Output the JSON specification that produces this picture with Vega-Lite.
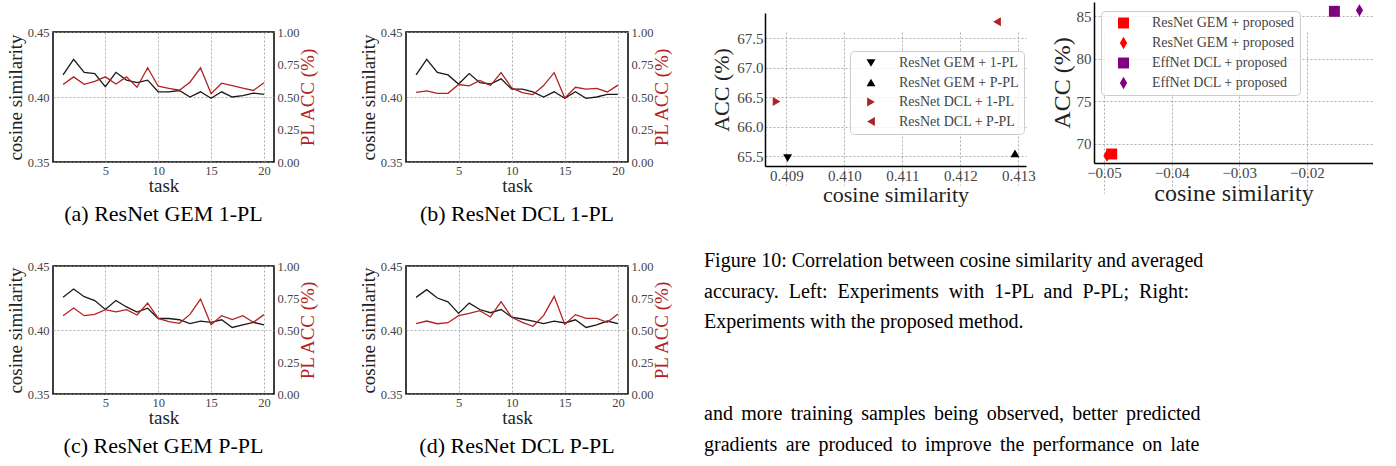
{
  "$schema": "https://vega.github.io/schema/vega-lite/v6.json",
  "padding": {"left": 5, "top": 4, "right": 0, "bottom": 0},
  "background": "white",
  "config": {
    "font": "Liberation Serif",
    "view": {"stroke": null},
    "axis": {"labelFont": "Liberation Serif", "titleFont": "Liberation Serif", "labelColor": "#444", "titleColor": "#222", "titleFontWeight": "normal", "ticks": false, "domain": false, "gridColor": "#9a9a9a", "gridDash": [2, 2], "gridWidth": 0.8, "labelFlush": false, "labelOverlap": false},
    "title": {"font": "Liberation Serif", "fontWeight": "normal", "color": "#000"},
    "legend": {"labelFont": "Liberation Serif"}
  },
  "datasets": {
    "a": [
      {"task": 1, "cos": 0.417, "pl": 0.596}, {"task": 2, "cos": 0.429, "pl": 0.655}, {"task": 3, "cos": 0.419, "pl": 0.598}, {"task": 4, "cos": 0.418, "pl": 0.62},
      {"task": 5, "cos": 0.408, "pl": 0.655}, {"task": 6, "cos": 0.419, "pl": 0.6}, {"task": 7, "cos": 0.413, "pl": 0.655}, {"task": 8, "cos": 0.411, "pl": 0.575},
      {"task": 9, "cos": 0.413, "pl": 0.725}, {"task": 10, "cos": 0.404, "pl": 0.583}, {"task": 11, "cos": 0.404, "pl": 0.567}, {"task": 12, "cos": 0.405, "pl": 0.552},
      {"task": 13, "cos": 0.4, "pl": 0.614}, {"task": 14, "cos": 0.404, "pl": 0.725}, {"task": 15, "cos": 0.399, "pl": 0.526}, {"task": 16, "cos": 0.404, "pl": 0.606},
      {"task": 17, "cos": 0.4, "pl": 0.588}, {"task": 18, "cos": 0.401, "pl": 0.568}, {"task": 19, "cos": 0.403, "pl": 0.55}, {"task": 20, "cos": 0.402, "pl": 0.609}
    ],
    "b": [
      {"task": 1, "cos": 0.417, "pl": 0.536}, {"task": 2, "cos": 0.429, "pl": 0.547}, {"task": 3, "cos": 0.419, "pl": 0.528}, {"task": 4, "cos": 0.417, "pl": 0.528},
      {"task": 5, "cos": 0.41, "pl": 0.596}, {"task": 6, "cos": 0.418, "pl": 0.585}, {"task": 7, "cos": 0.411, "pl": 0.627}, {"task": 8, "cos": 0.41, "pl": 0.588},
      {"task": 9, "cos": 0.414, "pl": 0.687}, {"task": 10, "cos": 0.406, "pl": 0.57}, {"task": 11, "cos": 0.406, "pl": 0.534}, {"task": 12, "cos": 0.404, "pl": 0.518},
      {"task": 13, "cos": 0.4, "pl": 0.588}, {"task": 14, "cos": 0.404, "pl": 0.687}, {"task": 15, "cos": 0.399, "pl": 0.492}, {"task": 16, "cos": 0.404, "pl": 0.575},
      {"task": 17, "cos": 0.399, "pl": 0.56}, {"task": 18, "cos": 0.4, "pl": 0.567}, {"task": 19, "cos": 0.402, "pl": 0.539}, {"task": 20, "cos": 0.402, "pl": 0.591}
    ],
    "c": [
      {"task": 1, "cos": 0.4255, "pl": 0.612}, {"task": 2, "cos": 0.432, "pl": 0.672}, {"task": 3, "cos": 0.426, "pl": 0.612}, {"task": 4, "cos": 0.423, "pl": 0.622},
      {"task": 5, "cos": 0.416, "pl": 0.659}, {"task": 6, "cos": 0.423, "pl": 0.641}, {"task": 7, "cos": 0.418, "pl": 0.659}, {"task": 8, "cos": 0.414, "pl": 0.617},
      {"task": 9, "cos": 0.417, "pl": 0.711}, {"task": 10, "cos": 0.409, "pl": 0.591}, {"task": 11, "cos": 0.409, "pl": 0.565}, {"task": 12, "cos": 0.408, "pl": 0.552},
      {"task": 13, "cos": 0.405, "pl": 0.622}, {"task": 14, "cos": 0.407, "pl": 0.742}, {"task": 15, "cos": 0.406, "pl": 0.542}, {"task": 16, "cos": 0.408, "pl": 0.612},
      {"task": 17, "cos": 0.402, "pl": 0.581}, {"task": 18, "cos": 0.404, "pl": 0.612}, {"task": 19, "cos": 0.406, "pl": 0.56}, {"task": 20, "cos": 0.404, "pl": 0.62}
    ],
    "d": [
      {"task": 1, "cos": 0.4255, "pl": 0.549}, {"task": 2, "cos": 0.4315, "pl": 0.57}, {"task": 3, "cos": 0.425, "pl": 0.549}, {"task": 4, "cos": 0.422, "pl": 0.557},
      {"task": 5, "cos": 0.413, "pl": 0.612}, {"task": 6, "cos": 0.421, "pl": 0.63}, {"task": 7, "cos": 0.416, "pl": 0.651}, {"task": 8, "cos": 0.4135, "pl": 0.602},
      {"task": 9, "cos": 0.416, "pl": 0.721}, {"task": 10, "cos": 0.41, "pl": 0.599}, {"task": 11, "cos": 0.4086, "pl": 0.56}, {"task": 12, "cos": 0.407, "pl": 0.529},
      {"task": 13, "cos": 0.405, "pl": 0.612}, {"task": 14, "cos": 0.407, "pl": 0.763}, {"task": 15, "cos": 0.4055, "pl": 0.544}, {"task": 16, "cos": 0.408, "pl": 0.62},
      {"task": 17, "cos": 0.402, "pl": 0.591}, {"task": 18, "cos": 0.404, "pl": 0.591}, {"task": 19, "cos": 0.407, "pl": 0.56}, {"task": 20, "cos": 0.405, "pl": 0.625}
    ],
    "left": [
      {"method": "ResNet GEM + 1-PL", "cos": 0.40902, "acc": 65.47},
      {"method": "ResNet GEM + P-PL", "cos": 0.41294, "acc": 65.55},
      {"method": "ResNet DCL + 1-PL", "cos": 0.40883, "acc": 66.43},
      {"method": "ResNet DCL + P-PL", "cos": 0.41263, "acc": 67.78}
    ],
    "right": [
      {"method": "ResNet GEM + proposed | 1", "cos": -0.04886, "acc": 68.78},
      {"method": "ResNet GEM + proposed | 2", "cos": -0.04956, "acc": 68.58},
      {"method": "EffNet DCL + proposed | 1", "cos": -0.01593, "acc": 85.59},
      {"method": "EffNet DCL + proposed | 2", "cos": -0.01222, "acc": 85.71}
    ],
    "text": [
      {"line": 0, "indent": 0, "text": "Figure 10:  Correlation between cosine similarity and averaged"},
      {"line": 1, "indent": 0, "text": "accuracy. \u00a0Left: \u00a0Experiments \u00a0with \u00a01-PL \u00a0and \u00a0P-PL; \u00a0Right:"},
      {"line": 2, "indent": 0, "text": "Experiments with the proposed method."},
      {"line": 5, "indent": 0, "text": "and \u2006more \u2006training \u2006samples \u2006being \u2006observed, \u2006better \u2006predicted"},
      {"line": 6, "indent": 0, "text": "gradients \u2006are \u2006produced \u2006to \u2006improve \u2006the \u2006performance \u2006on \u2006late"}
    ]
  },
  "columns": 4,
  "spacing": {"row": 100, "column": 132},
  "bounds": "flush",
  "align": "each",
  "resolve": {"scale": {"color": "independent", "shape": "independent"}, "legend": {"color": "independent", "shape": "independent"}},
  "concat": [
    {
      "width": 221, "height": 130,
      "data": {"name": "a"},
      "view": {"stroke": "#000", "strokeWidth": 1.5},
      "title": {"text": "(a) ResNet GEM 1-PL", "orient": "bottom", "fontSize": 22, "offset": 8, "frame": "group", "anchor": "middle"},
      "encoding": {"x": {"field": "task", "type": "quantitative", "scale": {"domain": [0.05, 20.95], "nice": false, "zero": false}, "axis": {"values": [5, 10, 15, 20], "grid": true, "title": "task", "labelFontSize": 12.5, "titleFontSize": 19, "labelPadding": 2, "titlePadding": 0}}},
      "layer": [
        {"mark": {"type": "line", "color": "#1a1a1a", "strokeWidth": 1.3}, "encoding": {"y": {"field": "cos", "type": "quantitative", "scale": {"domain": [0.35, 0.45], "nice": false, "zero": false}, "axis": {"orient": "left", "values": [0.35, 0.4, 0.45], "format": ".2f", "grid": true, "title": "cosine similarity", "labelFontSize": 12.5, "titleFontSize": 19, "labelPadding": 4, "titlePadding": 2}}}},
        {"mark": {"type": "line", "color": "#b22222", "strokeWidth": 1.3}, "encoding": {"y": {"field": "pl", "type": "quantitative", "scale": {"domain": [0, 1], "nice": false}, "axis": {"orient": "right", "values": [0, 0.25, 0.5, 0.75, 1], "format": ".2f", "grid": false, "title": "PL ACC (%)", "titleColor": "#b22222", "labelFontSize": 12.5, "titleFontSize": 19, "labelPadding": 3, "titlePadding": 0, "titleAngle": 270, "titleBaseline": "top"}}}}
      ],
      "resolve": {"scale": {"y": "independent"}}
    },
    {
      "width": 222, "height": 130,
      "data": {"name": "b"},
      "view": {"stroke": "#000", "strokeWidth": 1.5},
      "title": {"text": "(b) ResNet DCL 1-PL", "orient": "bottom", "fontSize": 22, "offset": 8, "frame": "group", "anchor": "middle"},
      "encoding": {"x": {"field": "task", "type": "quantitative", "scale": {"domain": [0.05, 20.95], "nice": false, "zero": false}, "axis": {"values": [5, 10, 15, 20], "grid": true, "title": "task", "labelFontSize": 12.5, "titleFontSize": 19, "labelPadding": 2, "titlePadding": 0}}},
      "layer": [
        {"mark": {"type": "line", "color": "#1a1a1a", "strokeWidth": 1.3}, "encoding": {"y": {"field": "cos", "type": "quantitative", "scale": {"domain": [0.35, 0.45], "nice": false, "zero": false}, "axis": {"orient": "left", "values": [0.35, 0.4, 0.45], "format": ".2f", "grid": true, "title": "cosine similarity", "labelFontSize": 12.5, "titleFontSize": 19, "labelPadding": 4, "titlePadding": 2}}}},
        {"mark": {"type": "line", "color": "#b22222", "strokeWidth": 1.3}, "encoding": {"y": {"field": "pl", "type": "quantitative", "scale": {"domain": [0, 1], "nice": false}, "axis": {"orient": "right", "values": [0, 0.25, 0.5, 0.75, 1], "format": ".2f", "grid": false, "title": "PL ACC (%)", "titleColor": "#b22222", "labelFontSize": 12.5, "titleFontSize": 19, "labelPadding": 3, "titlePadding": 0, "titleAngle": 270, "titleBaseline": "top"}}}}
      ],
      "resolve": {"scale": {"y": "independent"}}
    },
    {
      "width": 202, "height": 134,
      "data": {"name": "left"},
      "mark": {"type": "point", "filled": true, "size": 80, "opacity": 1},
      "encoding": {
        "x": {"field": "cos", "type": "quantitative", "scale": {"domain": [0.40863, 0.41313], "range": [5, 266], "nice": false, "zero": false}, "axis": {"values": [0.409, 0.41, 0.411, 0.412, 0.413], "format": ".3f", "grid": true, "domain": true, "domainColor": "#000", "domainWidth": 1.5, "title": "cosine similarity", "labelFontSize": 15, "titleFontSize": 22, "labelPadding": 2, "titlePadding": 1}},
        "y": {"field": "acc", "type": "quantitative", "scale": {"domain": [65.335, 67.93], "range": [134, -19], "nice": false, "zero": false}, "axis": {"offset": -5, "values": [65.5, 66, 66.5, 67, 67.5], "format": ".1f", "grid": true, "domain": true, "domainColor": "#000", "domainWidth": 1.5, "title": "ACC (%)", "labelFontSize": 15, "titleFontSize": 22, "labelPadding": 2, "titlePadding": 3}},
        "color": {"field": "method", "type": "nominal", "scale": {"domain": ["ResNet GEM + 1-PL", "ResNet GEM + P-PL", "ResNet DCL + 1-PL", "ResNet DCL + P-PL"], "range": ["#000000", "#000000", "#b22222", "#b22222"]}, "legend": {"title": null, "orient": "none", "legendX": 90, "legendY": 19, "labelFontSize": 14, "labelColor": "#444", "symbolSize": 80, "rowPadding": 5.5, "padding": 5, "symbolOffset": 9, "labelOffset": 21, "strokeColor": "#cccccc", "fillColor": "rgba(255,255,255,0.8)", "cornerRadius": 4}},
        "shape": {"field": "method", "type": "nominal", "scale": {"domain": ["ResNet GEM + 1-PL", "ResNet GEM + P-PL", "ResNet DCL + 1-PL", "ResNet DCL + P-PL"], "range": ["triangle-down", "triangle-up", "triangle-right", "triangle-left"]}, "legend": {"title": null, "orient": "none", "legendX": 90, "legendY": 19, "labelFontSize": 14, "labelColor": "#444", "symbolSize": 80, "rowPadding": 5.5, "padding": 5, "symbolOffset": 9, "labelOffset": 21, "strokeColor": "#cccccc", "fillColor": "rgba(255,255,255,0.8)", "cornerRadius": 4}}
      }
    },
    {
      "width": 279, "height": 131,
      "data": {"name": "right"},
      "mark": {"type": "point", "filled": true, "size": 120, "opacity": 1},
      "encoding": {
        "x": {"field": "cos", "type": "quantitative", "scale": {"domain": [-0.05148, -0.01022], "nice": false, "zero": false}, "axis": {"values": [-0.05, -0.04, -0.03, -0.02], "format": ".2f", "grid": true, "domain": true, "domainColor": "#000", "domainWidth": 1.5, "title": "cosine similarity", "labelFontSize": 15, "titleFontSize": 24, "labelPadding": 2, "titlePadding": 1}},
        "y": {"field": "acc", "type": "quantitative", "scale": {"domain": [67.72, 86.69], "range": [131, -30], "nice": false, "zero": false}, "axis": {"values": [70, 75, 80, 85], "format": "d", "grid": true, "domain": true, "domainColor": "#000", "domainWidth": 1.5, "title": "ACC (%)", "labelFontSize": 15, "titleFontSize": 24, "labelPadding": 3, "titlePadding": 2}},
        "color": {"field": "method", "type": "nominal", "scale": {"domain": ["ResNet GEM + proposed | 1", "ResNet GEM + proposed | 2", "EffNet DCL + proposed | 1", "EffNet DCL + proposed | 2"], "range": ["#ff0000", "#ff0000", "#800080", "#800080"]}, "legend": {"title": null, "orient": "none", "legendX": 7, "legendY": -21, "labelFontSize": 14, "labelColor": "#444", "labelExpr": "split(datum.label, ' | ')[0]", "symbolSize": 120, "rowPadding": 6, "padding": 5, "symbolOffset": 10.5, "labelOffset": 21.5, "strokeColor": "#cccccc", "fillColor": "rgba(255,255,255,0.8)", "cornerRadius": 4}},
        "shape": {"field": "method", "type": "nominal", "scale": {"domain": ["ResNet GEM + proposed | 1", "ResNet GEM + proposed | 2", "EffNet DCL + proposed | 1", "EffNet DCL + proposed | 2"], "range": ["square", "M0,-1.12L0.66,0L0,1.12L-0.66,0Z", "square", "M0,-1.12L0.66,0L0,1.12L-0.66,0Z"]}, "legend": {"title": null, "orient": "none", "legendX": 7, "legendY": -21, "labelFontSize": 14, "labelColor": "#444", "labelExpr": "split(datum.label, ' | ')[0]", "symbolSize": 120, "rowPadding": 6, "padding": 5, "symbolOffset": 10.5, "labelOffset": 21.5, "strokeColor": "#cccccc", "fillColor": "rgba(255,255,255,0.8)", "cornerRadius": 4}}
      }
    },
    {
      "width": 221, "height": 128,
      "data": {"name": "c"},
      "view": {"stroke": "#000", "strokeWidth": 1.5},
      "title": {"text": "(c) ResNet GEM P-PL", "orient": "bottom", "fontSize": 22, "offset": 8, "frame": "group", "anchor": "middle"},
      "encoding": {"x": {"field": "task", "type": "quantitative", "scale": {"domain": [0.05, 20.95], "nice": false, "zero": false}, "axis": {"values": [5, 10, 15, 20], "grid": true, "title": "task", "labelFontSize": 12.5, "titleFontSize": 19, "labelPadding": 2, "titlePadding": 0}}},
      "layer": [
        {"mark": {"type": "line", "color": "#1a1a1a", "strokeWidth": 1.3}, "encoding": {"y": {"field": "cos", "type": "quantitative", "scale": {"domain": [0.35, 0.45], "nice": false, "zero": false}, "axis": {"orient": "left", "values": [0.35, 0.4, 0.45], "format": ".2f", "grid": true, "title": "cosine similarity", "labelFontSize": 12.5, "titleFontSize": 19, "labelPadding": 4, "titlePadding": 2}}}},
        {"mark": {"type": "line", "color": "#b22222", "strokeWidth": 1.3}, "encoding": {"y": {"field": "pl", "type": "quantitative", "scale": {"domain": [0, 1], "nice": false}, "axis": {"orient": "right", "values": [0, 0.25, 0.5, 0.75, 1], "format": ".2f", "grid": false, "title": "PL ACC (%)", "titleColor": "#b22222", "labelFontSize": 12.5, "titleFontSize": 19, "labelPadding": 3, "titlePadding": 0, "titleAngle": 270, "titleBaseline": "top"}}}}
      ],
      "resolve": {"scale": {"y": "independent"}}
    },
    {
      "width": 222, "height": 128,
      "data": {"name": "d"},
      "view": {"stroke": "#000", "strokeWidth": 1.5},
      "title": {"text": "(d) ResNet DCL P-PL", "orient": "bottom", "fontSize": 22, "offset": 8, "frame": "group", "anchor": "middle"},
      "encoding": {"x": {"field": "task", "type": "quantitative", "scale": {"domain": [0.05, 20.95], "nice": false, "zero": false}, "axis": {"values": [5, 10, 15, 20], "grid": true, "title": "task", "labelFontSize": 12.5, "titleFontSize": 19, "labelPadding": 2, "titlePadding": 0}}},
      "layer": [
        {"mark": {"type": "line", "color": "#1a1a1a", "strokeWidth": 1.3}, "encoding": {"y": {"field": "cos", "type": "quantitative", "scale": {"domain": [0.35, 0.45], "nice": false, "zero": false}, "axis": {"orient": "left", "values": [0.35, 0.4, 0.45], "format": ".2f", "grid": true, "title": "cosine similarity", "labelFontSize": 12.5, "titleFontSize": 19, "labelPadding": 4, "titlePadding": 2}}}},
        {"mark": {"type": "line", "color": "#b22222", "strokeWidth": 1.3}, "encoding": {"y": {"field": "pl", "type": "quantitative", "scale": {"domain": [0, 1], "nice": false}, "axis": {"orient": "right", "values": [0, 0.25, 0.5, 0.75, 1], "format": ".2f", "grid": false, "title": "PL ACC (%)", "titleColor": "#b22222", "labelFontSize": 12.5, "titleFontSize": 19, "labelPadding": 3, "titlePadding": 0, "titleAngle": 270, "titleBaseline": "top"}}}}
      ],
      "resolve": {"scale": {"y": "independent"}}
    },
    {
      "width": 202, "height": 185,
      "data": {"name": "text"},
      "mark": {"type": "text", "align": "left", "baseline": "alphabetic", "fontSize": 20, "font": "Liberation Serif", "color": "#000"},
      "encoding": {
        "x": {"field": "indent", "type": "quantitative", "scale": {"domain": [0, 1], "range": [-56, 146]}, "axis": null},
        "y": {"field": "line", "type": "quantitative", "scale": {"domain": [0, 6], "range": [1, 184.6], "nice": false, "zero": false}, "axis": null},
        "text": {"field": "text"}
      }
    }
  ]
}
